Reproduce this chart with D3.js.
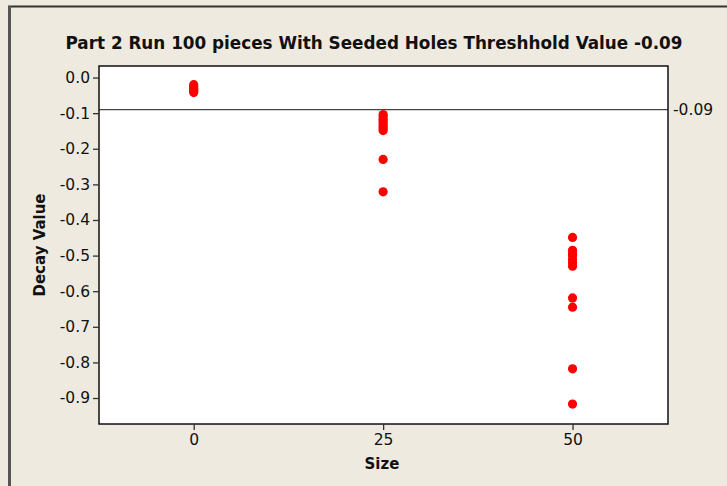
<!DOCTYPE html>
<html>
<head>
<meta charset="utf-8">
<script src="https://cdn.jsdelivr.net/npm/d3@7"></script>
<style>
  body { margin: 0; background: #eeeae0; }
  text { font-family: "DejaVu Sans", Verdana, sans-serif; fill: #111; }
</style>
</head>
<body>
<div id="chart"></div>
<script>
// data
const sizes = [0, 25, 50];
const decay0 = [-0.02, -0.025, -0.03, -0.035, -0.038, -0.042];
const decay25 = [-0.104, -0.11, -0.117, -0.123, -0.13, -0.137, -0.143, -0.149, -0.23, -0.321];
const decay50 = [-0.449, -0.485, -0.495, -0.50, -0.511, -0.52, -0.53, -0.619, -0.645, -0.818, -0.917];
const yTicks = [0, -0.1, -0.2, -0.3, -0.4, -0.5, -0.6, -0.7, -0.8, -0.9];
const threshold = -0.09;
const title = "Part 2 Run 100 pieces With Seeded Holes Threshhold Value -0.09";

let points = [];
[decay0, decay25, decay50].forEach((vals, i) => {
  vals.forEach(v => points.push({x: sizes[i], y: v}));
});

const width = 727, height = 486;
const plot = {left: 99, top: 66, right: 668, bottom: 424};
const minus = s => s.replace("−", "-");

let svg = d3.select("#chart")
  .append("svg")
  .attr("width", width)
  .attr("height", height);

// outer background + border (cropped window edge)
svg.append("rect")
  .attr("x", 0).attr("y", 0)
  .attr("width", width).attr("height", height)
  .attr("fill", "#eeeae0");
svg.append("line")
  .attr("x1", 8).attr("x2", width).attr("y1", 6.5).attr("y2", 6.5)
  .attr("stroke", "#333").attr("stroke-width", 2);
svg.append("line")
  .attr("x1", 9.5).attr("x2", 9.5).attr("y1", 6).attr("y2", height)
  .attr("stroke", "#555").attr("stroke-width", 3);

let x = d3.scaleLinear()
  .domain([-12.5, 62.6])
  .range([plot.left, plot.right]);
let y = d3.scaleLinear()
  .domain([0.0325, -0.973])
  .range([plot.top, plot.bottom]);

svg.append("rect")
  .attr("x", plot.left).attr("y", plot.top)
  .attr("width", plot.right - plot.left)
  .attr("height", plot.bottom - plot.top)
  .attr("fill", "#ffffff");

// threshold reference line
svg.append("line")
  .attr("x1", plot.left).attr("x2", plot.right)
  .attr("y1", y(threshold)).attr("y2", y(threshold))
  .attr("stroke", "#444").attr("stroke-width", 1.3);
svg.append("text")
  .attr("x", plot.right + 5)
  .attr("y", y(threshold))
  .attr("dy", "0.35em")
  .attr("font-size", "15.5px")
  .text(minus(d3.format(".2f")(threshold)));

// points
svg.append("g")
  .selectAll("circle")
  .data(points)
  .enter()
  .append("circle")
  .attr("cx", d => x(d.x))
  .attr("cy", d => y(d.y))
  .attr("r", 4.6)
  .attr("fill", "#ff0000");

// frame
svg.append("rect")
  .attr("x", plot.left).attr("y", plot.top)
  .attr("width", plot.right - plot.left)
  .attr("height", plot.bottom - plot.top)
  .attr("fill", "none")
  .attr("stroke", "#111")
  .attr("stroke-width", 1.5);

// axes
let yAxis = d3.axisLeft(y)
  .tickValues(yTicks)
  .tickSize(6)
  .tickPadding(3)
  .tickFormat(d => minus(d3.format(".1f")(d)));
let gy = svg.append("g")
  .attr("transform", `translate(${plot.left},0)`)
  .call(yAxis);
gy.select(".domain").remove();
gy.selectAll("line").attr("stroke", "#333").attr("stroke-width", 1.3);
gy.selectAll("text").attr("font-size", "15.5px").attr("font-family", "DejaVu Sans").attr("fill", "#111");

let xAxis = d3.axisBottom(x)
  .tickValues(sizes)
  .tickSize(6)
  .tickPadding(4);
let gx = svg.append("g")
  .attr("transform", `translate(0,${plot.bottom})`)
  .call(xAxis);
gx.select(".domain").remove();
gx.selectAll("line").attr("stroke", "#333").attr("stroke-width", 1.3);
gx.selectAll("text").attr("font-size", "15.5px").attr("font-family", "DejaVu Sans").attr("fill", "#111");

// titles
svg.append("text")
  .attr("x", 374).attr("y", 49)
  .attr("text-anchor", "middle")
  .attr("font-size", "17px")
  .attr("font-weight", "bold")
  .attr("textLength", 617)
  .attr("lengthAdjust", "spacingAndGlyphs")
  .text(title);

svg.append("text")
  .attr("x", 382).attr("y", 469)
  .attr("text-anchor", "middle")
  .attr("font-size", "15px")
  .attr("font-weight", "bold")
  .text("Size");

svg.append("text")
  .attr("transform", "translate(45,245) rotate(-90)")
  .attr("text-anchor", "middle")
  .attr("font-size", "15px")
  .attr("font-weight", "bold")
  .text("Decay Value");
</script>
</body>
</html>
